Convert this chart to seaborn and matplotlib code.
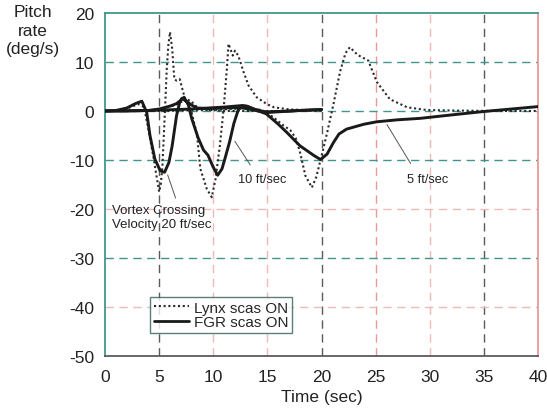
import matplotlib
matplotlib.use("Agg")
import matplotlib.pyplot as plt
import numpy as np
import pandas as pd
import seaborn as sns
from matplotlib.lines import Line2D

# FGR (solid) runs, one per vortex crossing velocity
fgr_20_t = [0, 1, 2, 2.8, 3.4, 3.85, 4.15, 4.6, 5.1, 5.5, 5.9, 6.2, 6.6, 6.9, 7.1, 7.5,
            8.0, 8.5, 9.5, 11, 12.5, 13.5, 14.5, 16, 18, 20]
fgr_20_y = [0, 0.1, 0.6, 1.5, 2.0, -0.3, -5.0, -9.8, -12.2, -12.5, -10.5, -7.1, -1.0, 1.8, 2.6, 2.0,
            1.2, 0.6, 0.5, 0.6, 0.7, 0.3, -0.2, -0.1, 0.1, 0.3]

fgr_10_t = [0, 2, 4, 5, 6, 6.6, 7.0, 7.3, 7.7, 8.0, 8.6, 9.1, 9.5, 10.0, 10.4, 10.8, 11.1,
            11.5, 11.9, 12.3, 12.7, 13.1, 13.7, 15.0, 16.5, 18, 20]
fgr_10_y = [0, 0, 0.1, 0.4, 1.0, 1.5, 2.2, 2.8, 1.2, -1.5, -5.5, -8.0, -9.0, -11.5, -13.1, -11.8, -9.5,
            -6.3, -2.5, 0.2, 1.1, 1.0, 0.4, -0.3, -0.1, 0.1, 0.3]

fgr_5_t = [0, 4, 8, 11, 12.6, 13.3, 14.0, 14.9, 16.0, 16.8, 18.0, 19.3, 19.9, 20.5, 21.1, 21.6,
           22.3, 23.9, 25.1, 27, 29.1, 32, 35, 37.5, 40]
fgr_5_y = [0, 0.1, 0.4, 0.8, 1.1, 0.8, 0.2, -0.6, -2.7, -4.4, -7.1, -9.1, -9.9, -8.8, -6.4, -4.7,
           -3.7, -2.7, -2.2, -1.8, -1.5, -0.8, -0.1, 0.4, 0.9]

# Lynx (dotted) runs
lynx_20_t = [0, 1, 2, 3.1, 3.6, 4.0, 4.5, 4.8, 5.0, 5.15, 5.3, 5.5, 5.7, 5.85, 6.0, 6.2, 6.4,
             6.6, 6.9, 7.1, 7.4, 7.9, 8.5, 9.5, 11, 14, 17, 20]
lynx_20_y = [0, 0.1, 0.5, 1.4, 0.8, -3.7, -9.8, -13.9, -16.5, -15.0, -11.2, -1.6, 8.6, 13.5, 16.1, 12.7, 6.5,
             6.2, 6.5, 4.8, 2.4, 2.1, 0.8, 0.2, 0, 0, 0, 0.1]

lynx_10_t = [0, 3, 5, 6.5, 7.3, 7.7, 8.0, 8.5, 8.8, 9.4, 9.86, 10.2, 10.6, 10.95, 11.25, 11.4,
             11.6, 11.8, 12.0, 12.3, 12.8, 13.25, 14.0, 14.95, 15.6, 17.1, 20]
lynx_10_y = [0, 0, 0.3, 1.2, 2.2, 1.5, -0.3, -5.0, -11.8, -15.9, -17.6, -13.9, -7.1, 0.4, 8.6, 13.7,
             12.5, 11.3, 12.3, 11.3, 7.9, 5.2, 2.8, 1.4, 0.75, 0.3, 0.1]

lynx_5_t = [0, 5, 10, 13, 14.5, 15.5, 16.5, 17.1, 17.6, 18.0, 18.5, 19.1, 19.5, 20.0, 20.5, 21.1,
            21.7, 22.2, 22.6, 23.35, 24.3, 25.1, 26.3, 27.9, 29.7, 32, 36, 40]
lynx_5_y = [0, 0, 0.2, 0.6, 0.2, -1.2, -3.0, -3.9, -5.5, -8.4, -13.2, -15.6, -13.5, -9.1, -4.5, 1.5,
            8.0, 11.8, 13.0, 11.4, 10.3, 5.9, 2.4, 0.75, 0.2, 0.1, 0, 0]

x_ticks = [0, 5, 10, 15, 20, 25, 30, 35, 40]
y_ticks = [-50, -40, -30, -20, -10, 0, 10, 20]

TEAL = "#3f978c"
PINK = "#efb9b9"
REDPINK = "#e79a9a"
GRAY = "#5a5a5a"

runs = [
    ("FGR", "20", fgr_20_t, fgr_20_y),
    ("FGR", "10", fgr_10_t, fgr_10_y),
    ("FGR", "5", fgr_5_t, fgr_5_y),
    ("Lynx", "20", lynx_20_t, lynx_20_y),
    ("Lynx", "10", lynx_10_t, lynx_10_y),
    ("Lynx", "5", lynx_5_t, lynx_5_y),
]
df = pd.concat(
    [pd.DataFrame({"t": t, "q": y, "system": s, "velocity": v}) for s, v, t, y in runs],
    ignore_index=True,
)

sns.set_style("white")
plt.rcParams["font.family"] = ["Liberation Sans", "DejaVu Sans"]
plt.rcParams["axes.unicode_minus"] = False

fig, ax = plt.subplots(figsize=(5.47, 4.10), dpi=100)
fig.subplots_adjust(left=0.192, right=0.984, top=0.966, bottom=0.129)

# grid lines (the scan mixes colours)
v_colors = {5: GRAY, 10: PINK, 15: PINK, 20: GRAY, 25: REDPINK, 30: PINK, 35: GRAY}
h_colors = {10: TEAL, 0: TEAL, -10: TEAL, -20: PINK, -30: TEAL, -40: PINK}
for xv, c in v_colors.items():
    ax.axvline(xv, color=c, lw=1.0, ls=(0, (6, 4)), zorder=0)
for yv, c in h_colors.items():
    ax.axhline(yv, color=c, lw=1.0, ls=(0, (6, 4)), zorder=0)

for (system, vel), sub in df.groupby(["system", "velocity"], sort=False):
    if system == "FGR":
        sns.lineplot(data=sub, x="t", y="q", ax=ax, color="#1a1a1a", lw=2.1,
                     estimator=None, sort=False, zorder=3)
    else:
        sns.lineplot(data=sub, x="t", y="q", ax=ax, color="#2a2a2a", lw=1.5,
                     linestyle=(0, (1, 1.3)), estimator=None, sort=False, zorder=2)

ax.set_xlim(0, 40)
ax.set_ylim(-50, 20)
ax.set_xticks(x_ticks)
ax.set_yticks(y_ticks)
ax.tick_params(axis="both", labelsize=12.5, colors="#222222", direction="in", length=3)
ax.tick_params(axis="x", length=0, pad=9)
ax.tick_params(axis="y", pad=8)
ax.set_xlabel("Time (sec)", fontsize=12.5, labelpad=4, color="#222222")
ax.set_ylabel("")

ax.spines["left"].set_color(TEAL)
ax.spines["top"].set_color(TEAL)
ax.spines["right"].set_color(REDPINK)
ax.spines["bottom"].set_color(GRAY)
for sp in ax.spines.values():
    sp.set_linewidth(1.3)

fig.text(33 / 547, 1 - 5 / 410, "Pitch\nrate\n(deg/s)", ha="center", va="top",
         fontsize=12.5, linespacing=1.3, color="#222222")

# annotations
ax.annotate("", xy=(5.7, -12.5), xytext=(6.6, -18.3),
            arrowprops=dict(arrowstyle="-", color="#555555", lw=0.7))
ax.text(0.6, -21.7, "Vortex Crossing\nVelocity 20 ft/sec", fontsize=9.5,
        va="center", ha="left", linespacing=1.25, color="#222222")
ax.annotate("", xy=(11.85, -5.7), xytext=(13.55, -11.5),
            arrowprops=dict(arrowstyle="-", color="#555555", lw=0.7))
ax.text(12.3, -13.9, "10 ft/sec", fontsize=9.2, va="center", ha="left", color="#222222")
ax.annotate("", xy=(25.9, -2.3), xytext=(28.35, -11.2),
            arrowprops=dict(arrowstyle="-", color="#555555", lw=0.7))
ax.text(27.9, -13.9, "5 ft/sec", fontsize=9.2, va="center", ha="left", color="#222222")

handles = [
    Line2D([], [], color="#2a2a2a", lw=1.5, linestyle=(0, (1, 1.3))),
    Line2D([], [], color="#1a1a1a", lw=2.0),
]
leg = ax.legend(handles, ["Lynx scas ON", "FGR scas ON"], loc="lower left",
                bbox_to_anchor=(0.104, 0.067), fontsize=11, frameon=True, fancybox=False,
                handlelength=2.3, handletextpad=0.3, borderpad=0.25, labelspacing=0.05,
                borderaxespad=0)
leg.get_frame().set_edgecolor("#2f5f5a")
leg.get_frame().set_linewidth(1.0)

fig.savefig("out.png", dpi=100)
